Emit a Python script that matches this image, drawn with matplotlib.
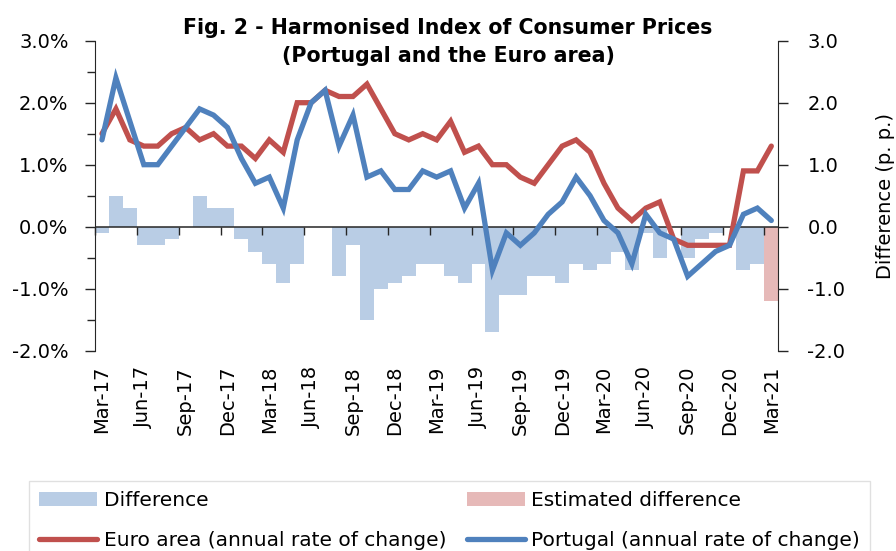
import numpy as np
import pandas as pd
import matplotlib
matplotlib.use("Agg")
import matplotlib.pyplot as plt
from matplotlib.patches import Patch
from matplotlib.lines import Line2D
from matplotlib.ticker import FuncFormatter, MultipleLocator

plt.rcParams['font.family'] = ['DejaVu Sans']

# ---- data (annual rate of change, %) ----
months = list(pd.date_range("2017-03-01", periods=49, freq="MS").strftime("%b-%y"))

euro_area = [1.5, 1.9, 1.4, 1.3, 1.3, 1.5, 1.6, 1.4, 1.5, 1.3,
             1.3, 1.1, 1.4, 1.2, 2.0, 2.0, 2.2, 2.1, 2.1, 2.3,
             1.9, 1.5, 1.4, 1.5, 1.4, 1.7, 1.2, 1.3, 1.0, 1.0,
             0.8, 0.7, 1.0, 1.3, 1.4, 1.2, 0.7, 0.3, 0.1, 0.3,
             0.4, -0.2, -0.3, -0.3, -0.3, -0.3, 0.9, 0.9, 1.3]

portugal = [1.4, 2.4, 1.7, 1.0, 1.0, 1.3, 1.6, 1.9, 1.8, 1.6,
            1.1, 0.7, 0.8, 0.3, 1.4, 2.0, 2.2, 1.3, 1.8, 0.8,
            0.9, 0.6, 0.6, 0.9, 0.8, 0.9, 0.3, 0.7, -0.7, -0.1,
            -0.3, -0.1, 0.2, 0.4, 0.8, 0.5, 0.1, -0.1, -0.6, 0.2,
            -0.1, -0.2, -0.8, -0.6, -0.4, -0.3, 0.2, 0.3, 0.1]

difference = [-0.1, 0.5, 0.3, -0.3, -0.3, -0.2, 0.0, 0.5, 0.3, 0.3,
              -0.2, -0.4, -0.6, -0.9, -0.6, 0.0, 0.0, -0.8, -0.3, -1.5,
              -1.0, -0.9, -0.8, -0.6, -0.6, -0.8, -0.9, -0.6, -1.7, -1.1,
              -1.1, -0.8, -0.8, -0.9, -0.6, -0.7, -0.6, -0.4, -0.7, -0.1,
              -0.5, 0.0, -0.5, -0.2, -0.1, 0.0, -0.7, -0.6, None]

estimated_difference = [None] * 48 + [-1.2]

tick_labels = months[::3]

# ---- figure ----
W, H = 896, 551
fig = plt.figure(figsize=(W / 100, H / 100), dpi=100)
ax_l, ax_r, ax_t, ax_b = 95, 778.3, 40.7, 350.7
ax = fig.add_axes([ax_l / W, 1 - ax_b / H, (ax_r - ax_l) / W, (ax_b - ax_t) / H])
ax2 = ax.twinx()
ax.set_zorder(ax2.get_zorder() + 1)
ax.patch.set_visible(False)

x = np.arange(len(months))
diff_vals = np.array([np.nan if v is None else v for v in difference], dtype=float)
est_vals = np.array([np.nan if v is None else v for v in estimated_difference], dtype=float)

ax2.bar(x, diff_vals, width=1.0, color='#B9CDE5', edgecolor='none', zorder=1)
ax2.bar(x, est_vals, width=1.0, color='#E6B9B8', edgecolor='none', zorder=1)

ax.axhline(0, color='#262626', lw=1.1, zorder=2)
ax.plot(x, euro_area, color='#C0504D', lw=3.8, solid_capstyle='round', solid_joinstyle='miter', zorder=3)
ax.plot(x, portugal, color='#4F81BD', lw=3.8, solid_capstyle='round', solid_joinstyle='miter', zorder=4)

for a in (ax, ax2):
    a.set_xlim(-0.5, len(months) - 0.5)
    a.set_ylim(-2, 3)
    a.spines['top'].set_visible(False)
    a.spines['bottom'].set_visible(False)

ax.spines['right'].set_visible(False)
ax2.spines['left'].set_visible(False)
ax.spines['left'].set_color('#262626')
ax2.spines['right'].set_color('#262626')

# left axis
ax.yaxis.set_major_locator(MultipleLocator(1.0))
ax.yaxis.set_minor_locator(MultipleLocator(0.5))
ax.yaxis.set_major_formatter(FuncFormatter(lambda v, p: f"{v:.1f}%"))
ax.tick_params(axis='y', which='major', direction='out', length=7, width=1, labelsize=14, pad=12, color='#262626')
ax.tick_params(axis='y', which='minor', direction='out', length=6, width=1, color='#262626')

# right axis
ax2.yaxis.set_major_locator(MultipleLocator(1.0))
ax2.yaxis.set_major_formatter(FuncFormatter(lambda v, p: f"{v:.1f}"))
ax2.tick_params(axis='y', direction='out', length=7, width=1, labelsize=14, pad=14, color='#262626')
ax2.set_ylabel('Difference (p. p.)', fontsize=14, labelpad=22)

# x axis: labels at the bottom, tick marks on the zero line
ax2.set_xticks([])
ax.set_xticks(x[::3])
ax.set_xticklabels(tick_labels, rotation=90, fontsize=14)
ax.tick_params(axis='x', length=0, pad=11)

sec = ax.secondary_xaxis(0.4)
sec.set_xticks(np.arange(-0.5, len(months) - 0.5, 3))
sec.tick_params(axis='x', direction='out', length=6, width=1, labelbottom=False, color='#262626')
sec.spines['bottom'].set_visible(False)

# title
fig.text(448 / W, 1 - 42 / H, 'Fig. 2 - Harmonised Index of Consumer Prices\n(Portugal and the Euro area)',
         ha='center', va='center', fontsize=14.8, fontweight='bold', linespacing=1.55)

# legend
handles = [Patch(facecolor='#B9CDE5', edgecolor='none'),
           Line2D([], [], color='#C0504D', lw=3.8, solid_capstyle='round'),
           Patch(facecolor='#E6B9B8', edgecolor='none'),
           Line2D([], [], color='#4F81BD', lw=3.8, solid_capstyle='round')]
labels = ['Difference', 'Euro area (annual rate of change)',
          'Estimated difference', 'Portugal (annual rate of change)']
top = 1 - 481 / H
leg = fig.legend(handles, labels, ncol=2, loc='upper left',
                 bbox_to_anchor=(29 / W, top - 0.2, (870 - 29) / W, 0.2), mode='expand',
                 fontsize=14.5, frameon=True, fancybox=False, edgecolor='#D9D9D9',
                 handlelength=2.9, handleheight=0.7, handletextpad=0.3, labelspacing=1.05,
                 borderpad=0.5, borderaxespad=0)
leg.get_frame().set_linewidth(1.0)

fig.savefig('out.png', dpi=100)
